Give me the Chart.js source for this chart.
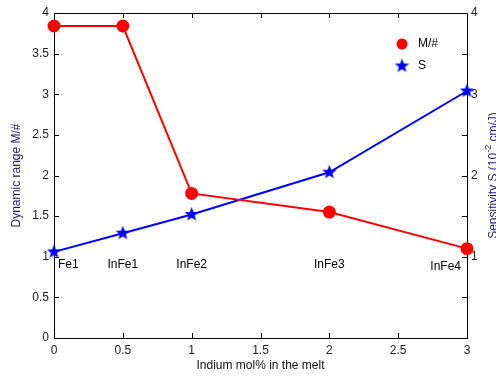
<!DOCTYPE html>
<html>
<head>
<meta charset="utf-8">
<script src="https://cdn.jsdelivr.net/npm/chart.js@4"></script>
<style>
  html, body { margin: 0; padding: 0; background: #fff; }
  #wrap { width: 496px; height: 377px; }
</style>
</head>
<body>
<div id="wrap"><canvas id="myChart"></canvas></div>
<script>
// data
const indiumMol = [0, 0.5, 1, 2, 3];
const sampleNames = ['Fe1', 'InFe1', 'InFe2', 'InFe3', 'InFe4'];
const dynamicRange = [3.84, 3.84, 1.78, 1.55, 1.10];
const sensitivity = [1.06, 1.29, 1.52, 2.04, 3.04];
const labelLevel = 0.9; // sample names sit just under y = 1

const FONT = '"Liberation Sans", Arial, sans-serif';

// filled 5-point star for the S series
function makeStar(color, rOut, rIn) {
  const c = document.createElement('canvas');
  const s = Math.ceil(rOut * 2 + 2);
  c.width = s; c.height = s;
  const g = c.getContext('2d');
  g.fillStyle = color;
  g.beginPath();
  for (let i = 0; i < 10; i++) {
    const r = i % 2 === 0 ? rOut : rIn;
    const a = -Math.PI / 2 + i * Math.PI / 5;
    const px = s / 2 + r * Math.cos(a), py = s / 2 + r * Math.sin(a);
    if (i === 0) g.moveTo(px, py); else g.lineTo(px, py);
  }
  g.closePath();
  g.fill();
  return c;
}
const blueStar = makeStar('#0000ff', 7.5, 3.2);

let dataM = [];
let dataS = [];
for (let i = 0; i < indiumMol.length; i++) {
  dataM[i] = {x: indiumMol[i], y: dynamicRange[i]};
  dataS[i] = {x: indiumMol[i], y: sensitivity[i]};
}

const extras = {
  id: 'extras',
  beforeDatasetsDraw(chart) {
    const {ctx, chartArea: a, scales} = chart;
    ctx.save();
    ctx.strokeStyle = '#000';
    ctx.lineWidth = 1;
    ctx.strokeRect(Math.round(a.left) + 0.5, Math.round(a.top) + 0.5,
      Math.round(a.right - a.left), Math.round(a.bottom - a.top));
    const t = 5;
    ctx.beginPath();
    for (let v = 0; v <= 3; v += 0.5) {
      const px = Math.round(scales.x.getPixelForValue(v)) + 0.5;
      ctx.moveTo(px, a.bottom); ctx.lineTo(px, a.bottom - t);
      ctx.moveTo(px, a.top); ctx.lineTo(px, a.top + t);
    }
    for (let v = 0; v <= 4; v += 0.5) {
      const py = Math.round(scales.y.getPixelForValue(v)) + 0.5;
      ctx.moveTo(a.left, py); ctx.lineTo(a.left + t, py);
      const py2 = Math.round(scales.y2.getPixelForValue(v)) + 0.5;
      ctx.moveTo(a.right, py2); ctx.lineTo(a.right - t, py2);
    }
    ctx.stroke();
    ctx.restore();
  },
  afterDraw(chart) {
    const {ctx, chartArea: a, scales} = chart;
    ctx.save();
    // sample names
    ctx.font = '12px ' + FONT;
    ctx.fillStyle = '#000';
    ctx.textBaseline = 'middle';
    for (let i = 0; i < sampleNames.length; i++) {
      const px = scales.x.getPixelForValue(indiumMol[i]);
      const py = scales.y.getPixelForValue(labelLevel);
      if (i === 0) { ctx.textAlign = 'left'; ctx.fillText(sampleNames[i], px + 4, py); }
      else if (i === sampleNames.length - 1) { ctx.textAlign = 'right'; ctx.fillText(sampleNames[i], px - 6, py + 2); }
      else { ctx.textAlign = 'center'; ctx.fillText(sampleNames[i], px, py); }
    }
    // legend
    const lx = a.right - 65;
    ctx.fillStyle = '#ff0000';
    ctx.beginPath(); ctx.arc(lx, a.top + 31, 5.5, 0, Math.PI * 2); ctx.fill();
    ctx.drawImage(blueStar, lx - blueStar.width / 2, a.top + 53 - blueStar.height / 2);
    ctx.fillStyle = '#000';
    ctx.textAlign = 'left';
    ctx.fillText('M/#', lx + 16, a.top + 31);
    ctx.fillText('S', lx + 16, a.top + 53);
    // axis titles
    ctx.fillStyle = '#1a1a66';
    ctx.textAlign = 'center';
    const midY = (a.top + a.bottom) / 2;
    ctx.save();
    ctx.translate(17, midY);
    ctx.rotate(-Math.PI / 2);
    ctx.fillText('Dynamic range M/#', 0, 0);
    ctx.restore();
    ctx.fillStyle = '#111';
    ctx.fillText('Indium mol% in the melt', (a.left + a.right) / 2, 366);
    // right title with superscript
    ctx.fillStyle = '#1a1a66';
    ctx.save();
    ctx.translate(494, midY);
    ctx.rotate(-Math.PI / 2);
    const p1 = 'Sensitivity S (10', p2 = '-2', p3 = ' cm/J)';
    ctx.font = '12px ' + FONT;
    const w1 = ctx.measureText(p1).width, w3 = ctx.measureText(p3).width;
    ctx.font = '9px ' + FONT;
    const w2 = ctx.measureText(p2).width;
    let sx = -(w1 + w2 + w3) / 2;
    ctx.textAlign = 'left';
    ctx.font = '12px ' + FONT;
    ctx.fillText(p1, sx, 0); sx += w1;
    ctx.font = '9px ' + FONT;
    ctx.fillText(p2, sx, -5); sx += w2;
    ctx.font = '12px ' + FONT;
    ctx.fillText(p3, sx, 0);
    ctx.restore();
    ctx.restore();
  }
};

new Chart(document.getElementById('myChart'), {
  type: 'line',
  data: {
    datasets: [{
      label: 'M/#',
      data: dataM,
      borderColor: '#ff0000',
      backgroundColor: '#ff0000',
      pointBackgroundColor: '#ff0000',
      pointBorderColor: '#ff0000',
      pointRadius: 5.5,
      borderWidth: 2,
      yAxisID: 'y',
      clip: false
    }, {
      label: 'S',
      data: dataS,
      borderColor: '#0000ff',
      backgroundColor: '#0000ff',
      pointStyle: blueStar,
      borderWidth: 2,
      yAxisID: 'y2',
      clip: false
    }]
  },
  options: {
    responsive: true,
    maintainAspectRatio: false,
    animation: false,
    events: [],
    layout: { padding: { top: 13, left: 0, right: 0, bottom: 0 } },
    scales: {
      x: {
        type: 'linear',
        min: 0, max: 3,
        grid: { display: false, tickLength: 0 },
        border: { display: false },
        ticks: { stepSize: 0.5, color: '#222', font: { size: 12, family: FONT }, padding: 5, maxRotation: 0,
          callback: v => String(v) },
        afterFit: s => { s.height = 39; }
      },
      y: {
        position: 'left',
        min: 0, max: 4,
        grid: { display: false, tickLength: 0 },
        border: { display: false },
        ticks: { stepSize: 0.5, color: '#222', font: { size: 12, family: FONT }, padding: 5,
          callback: v => String(v) },
        afterFit: s => { s.width = 54; }
      },
      y2: {
        position: 'right',
        min: 0, max: 4,
        grid: { display: false, tickLength: 0 },
        border: { display: false },
        ticks: { stepSize: 0.5, color: '#222', font: { size: 12, family: FONT }, padding: 4,
          callback: v => (Number.isInteger(v) && v > 0) ? String(v) : '' },
        afterFit: s => { s.width = 29; }
      }
    },
    plugins: {
      legend: { display: false },
      tooltip: { enabled: false }
    }
  },
  plugins: [extras]
});
</script>
</body>
</html>
